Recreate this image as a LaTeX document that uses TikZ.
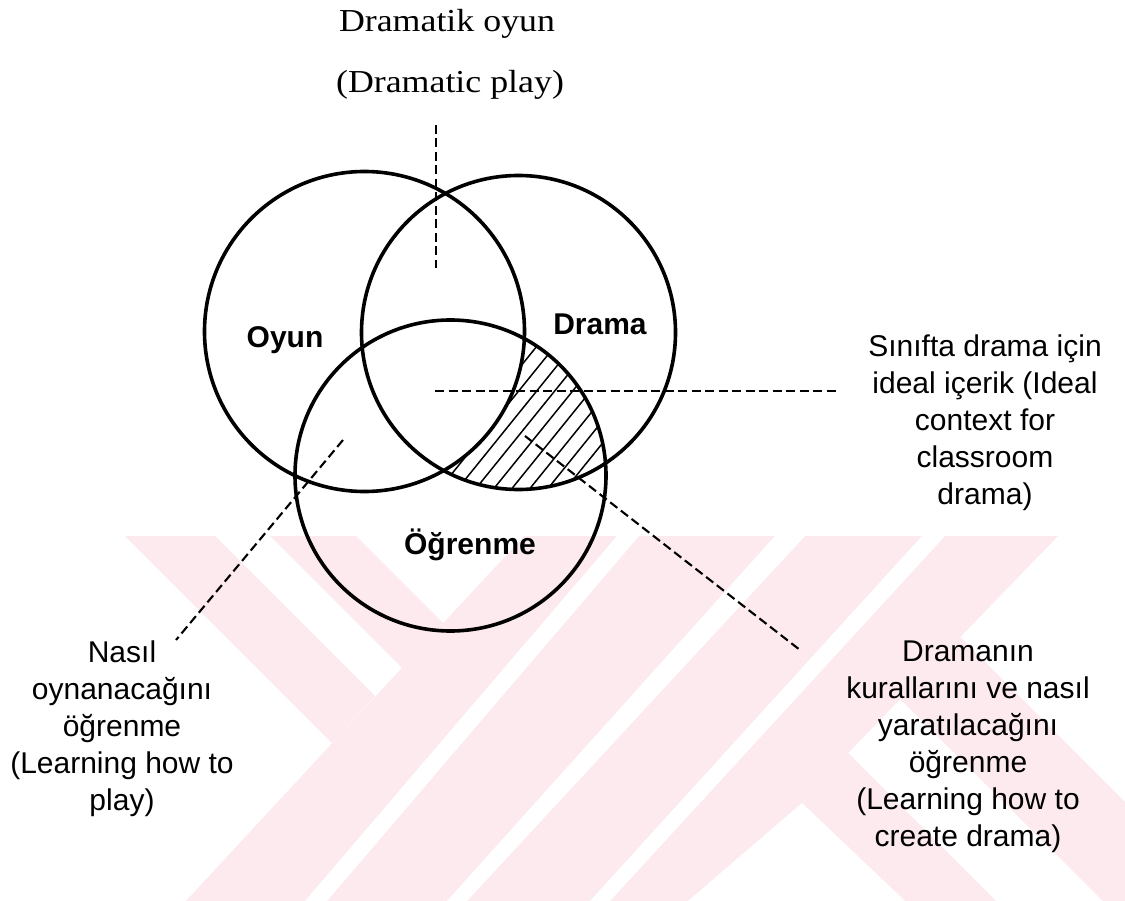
\documentclass[tikz,border=0pt]{standalone}
\usepackage{fontspec}
\setmainfont{Liberation Serif}
\setsansfont{Liberation Sans}
\definecolor{wm}{RGB}{253,234,239}
\begin{document}
\begin{tikzpicture}[x=1pt,y=-1pt,
  ring/.style={draw=black,line width=3.6pt,circle,inner sep=0pt},
  lead/.style={draw=black,line width=2.1pt,dash pattern=on 9pt off 4.5pt},
  hatchline/.style={draw=black,line width=1.5pt},
  wmfill/.style={fill=wm},
  wmgap/.style={fill=white},
  setlabel/.style={font=\sffamily\bfseries\fontsize{30}{36}\selectfont,inner sep=0pt},
  sidelabel/.style={font=\sffamily\fontsize{30}{37}\selectfont,align=center,inner sep=0pt},
  titlelabel/.style={font=\rmfamily\fontsize{32}{38}\selectfont,inner sep=0pt}]
\useasboundingbox (0,0) rectangle (1125,901);
\fill[white] (0,0) rectangle (1125,901);
% watermark
\fill[wmfill] (125,536) -- (215,536) -- (375,696) -- (332,743) -- cycle;
\fill[wmfill] (270,536) -- (356,536) -- (443,623) -- (402,668) -- cycle;
\fill[wmfill] (524,536) -- (1058,536) -- (848,753) -- (996,901) -- (186,901) -- cycle;
\fill[wmfill] (900,699) -- (960,637) -- (1125,802) -- (1125,901) -- (1103,901) -- cycle;
\fill[wmgap] (617,536) -- (639,536) -- (327,901) -- (305,901) -- cycle;
\fill[wmgap] (775,536) -- (805,536) -- (467,901) -- (447,901) -- cycle;
\fill[wmgap] (922,536) -- (945,536) -- (610,901) -- (590,901) -- cycle;
\fill[wmgap] (688,901) -- (802,803) -- (905,901) -- cycle;
% centres
\coordinate (cO) at (364.5,331.5);
\coordinate (cD) at (518.5,332.5);
\coordinate (cL) at (450.5,475.5);
% hatching
\begin{scope}
  \clip (cD) circle[radius=157pt];
  \clip (cL) circle[radius=155.5pt];
  \begin{scope}[even odd rule]
  \clip (0,0) rectangle (1125,901) (cO) circle[radius=160pt];
  \foreach \x in {380,398,...,660} {
    \draw[hatchline] (\x-126,585) -- (\x+126,273);
  }
  \end{scope}
\end{scope}
% circles
\node[ring,minimum size=320pt] (oyun) at (cO) {};
\node[ring,minimum size=314pt] (drama) at (cD) {};
\node[ring,minimum size=311pt] (ogr) at (cL) {};
% set labels
\node[setlabel,anchor=base] (tOyun) at (285,348) {Oyun};
\node[setlabel,anchor=base] (tDrama) at (600,335) {Drama};
\node[setlabel,anchor=base] (tOgr) at (470,554) {Öğrenme};
% titles
\node[titlelabel,anchor=base] (t1) at (447,32) {\scalebox{1.12}[1]{Dramatik oyun}};
\node[titlelabel,anchor=base] (t2) at (450,93) {\scalebox{1.12}[1]{(Dramatic play)}};
% side labels
\node[sidelabel] (sR) at (985,423) {Sınıfta drama için\\ideal içerik (Ideal\\context for\\classroom\\drama)};
\node[sidelabel] (sL) at (122,729) {Nasıl\\oynanacağını\\öğrenme\\(Learning how to\\play)};
\node[sidelabel] (sB) at (968,747) {Dramanın\\kurallarını ve nasıl\\yaratılacağını\\öğrenme\\(Learning how to\\create drama)};
% leader lines
\coordinate (v1) at (436,125);
\coordinate (v2) at (436,268);
\coordinate (h1) at (435,391);
\coordinate (h2) at (840,391);
\coordinate (l1) at (343,440);
\coordinate (l2) at (176,640);
\coordinate (r1) at (525,436);
\coordinate (r2) at (800,650);
\draw[lead] (v1) -- (v2);
\draw[lead] (h1) -- (h2);
\draw[lead] (l1) -- (l2);
\draw[lead] (r1) -- (r2);
\end{tikzpicture}
\end{document}
